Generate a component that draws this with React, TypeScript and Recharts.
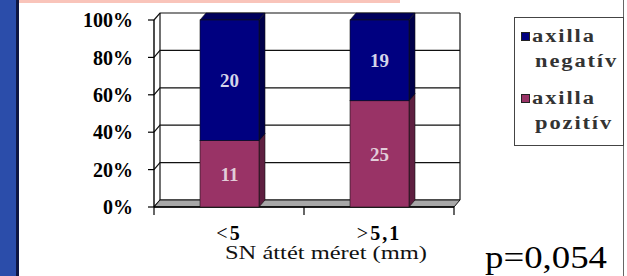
import { BarChart, Bar, XAxis, YAxis, CartesianGrid, Legend, LabelList, ReferenceArea } from 'recharts'

const categories = ['<5', '>5,1']
const axillaNegativ = [20, 19]
const axillaPozitiv = [11, 25]
const yTicks = [0, 0.2, 0.4, 0.6, 0.8, 1]
const pValue = 'p=0,054'
const axisTitle = 'SN áttét méret (mm)'

const SERIF = '"Liberation Serif", "Times New Roman", serif'
const NEG = '#000080'
const NEG_SIDE = '#00004a'
const NEG_TOP = '#00005c'
const POS = '#993366'
const POS_SIDE = '#5e1f40'
const POS_TOP = '#6e2a4c'
// depth of the fake 3d
const DX = 6
const DY = -7

const data = categories.map((name, i) => {
  const total = axillaNegativ[i] + axillaPozitiv[i]
  return {
    name,
    neg: axillaNegativ[i] / total,
    pos: axillaPozitiv[i] / total,
    negN: axillaNegativ[i],
    posN: axillaPozitiv[i],
  }
})

function Box3D(props: any) {
  const { x, y, width: w, height: h, fill, side, top } = props
  if (!w || !h) return null
  return (
    <g>
      <polygon
        points={`${x},${y} ${x + DX},${y + DY} ${x + w + DX},${y + DY} ${x + w},${y}`}
        fill={top}
        stroke="#111"
        strokeWidth={0.6}
      />
      <polygon
        points={`${x + w},${y} ${x + w + DX},${y + DY} ${x + w + DX},${y + h + DY} ${x + w},${y + h}`}
        fill={side}
        stroke="#111"
        strokeWidth={0.6}
      />
      <rect x={x} y={y} width={w} height={h} fill={fill} stroke="#111" strokeWidth={0.6} />
    </g>
  )
}

function Walls(props: any) {
  const { x, y, width: w, height: h } = props
  const b = y + h
  const n = categories.length
  const ticks = Array.from({ length: n + 1 }, (_, i) => x + (i * w) / n)
  return (
    <g>
      <polygon
        points={`${x},${b} ${x + DX},${b + DY} ${x + w + DX},${b + DY} ${x + w},${b}`}
        fill="#a8a8a8"
        stroke="#111"
        strokeWidth={1}
      />
      <line x1={x + DX} y1={y + DY} x2={x + DX} y2={b + DY} stroke="#111" strokeWidth={1.2} />
      <line x1={x + w + DX} y1={y + DY} x2={x + w + DX} y2={b + DY} stroke="#111" strokeWidth={1.2} />
      <line x1={x} y1={b} x2={x + w} y2={b} stroke="#000" strokeWidth={1.4} />
      {ticks.map((tx) => (
        <line key={tx} x1={tx} y1={b} x2={tx} y2={b + 8} stroke="#000" strokeWidth={1.2} />
      ))}
    </g>
  )
}

function gridLine(p: any) {
  return (
    <path
      key={`grid-${p.index}`}
      d={`M${p.x1},${p.y1}L${p.x1 + DX},${p.y1 + DY}L${p.x2 + DX},${p.y2 + DY}`}
      stroke="#111"
      strokeWidth={1.2}
      fill="none"
    />
  )
}

function CategoryTick({ x, y, payload }: any) {
  const v = String(payload.value)
  return (
    <text x={x} y={y + 25} textAnchor="middle" fontFamily={SERIF} fontSize={20} letterSpacing={2} fill="#000">
      <tspan>{v[0]}</tspan>
      <tspan fontWeight="bold">{v.slice(1)}</tspan>
    </text>
  )
}

function AxisTitle({ viewBox }: any) {
  const { x, y, width } = viewBox ?? { x: 0, y: 0, width: 0 }
  return (
    <text
      x={x + width / 2 + 22}
      y={y + 52}
      textAnchor="middle"
      fontFamily={SERIF}
      fontSize={18}
      textLength={202}
      lengthAdjust="spacingAndGlyphs"
      fill="#111"
    >
      {axisTitle}
    </text>
  )
}

function LegendBox({ payload }: any) {
  const items = [...(payload ?? [])].sort((a: any, b: any) =>
    String(a.value).includes('negatív') ? -1 : String(b.value).includes('negatív') ? 1 : 0,
  )
  return (
    <div
      style={{
        width: 110,
        height: 129,
        boxSizing: 'border-box',
        border: '1px solid #444',
        background: '#fff',
        padding: '6px 0 0 6px',
        fontFamily: SERIF,
        fontWeight: 'bold',
        fontSize: 18,
        color: '#333',
        letterSpacing: 1.5,
        lineHeight: '25px',
      }}
    >
      {items.map((it: any, i: number) => (
        <div key={it.value} style={{ position: 'relative', paddingLeft: 11, marginTop: i ? 12 : 0 }}>
          <span
            style={{
              position: 'absolute',
              left: 0,
              top: 8,
              width: 9,
              height: 9,
              boxSizing: 'border-box',
              background: it.color,
              border: '1px solid #222',
            }}
          />
          {String(it.value)
            .split(' ')
            .map((l: string, j: number) => (
              <div
                key={l}
                style={{
                  marginLeft: j ? 3 : 0,
                  transform: 'scaleX(1.25)',
                  transformOrigin: 'left center',
                  whiteSpace: 'nowrap',
                }}
              >
                {l}
              </div>
            ))}
        </div>
      ))}
    </div>
  )
}

export default function App() {
  return (
    <div style={{ position: 'absolute', left: 0, top: 0, width: 627, height: 276, background: '#fff', overflow: 'hidden' }}>
      <div style={{ position: 'absolute', left: 0, top: 0, width: 16, height: 276, background: '#2b4daa' }} />
      <div style={{ position: 'absolute', left: 16, top: 0, width: 3, height: 276, background: '#0e1642' }} />
      <div style={{ position: 'absolute', left: 19, top: 0, width: 381, height: 3, background: '#f9c4ba' }} />
      <div style={{ position: 'absolute', left: 623, top: 0, width: 1, height: 276, background: '#666' }} />
      <BarChart
        width={627}
        height={276}
        data={data}
        margin={{ top: 20, right: 63, bottom: 39, left: 94 }}
        barSize={59}
        style={{ position: 'absolute', left: 0, top: 0 }}
      >
        <CartesianGrid vertical={false} horizontal={gridLine} />
        <ReferenceArea y1={0} y2={1} shape={<Walls />} ifOverflow="visible" />
        <XAxis
          dataKey="name"
          height={30}
          axisLine={false}
          tickLine={false}
          tick={<CategoryTick />}
          interval={0}
          label={<AxisTitle />}
        />
        <YAxis
          type="number"
          domain={[0, 1]}
          ticks={yTicks}
          width={60}
          tickFormatter={(v: number) => `${Math.round(v * 100)}%`}
          tick={{ fontFamily: SERIF, fontSize: 20, fontWeight: 'bold', fill: '#000' }}
          axisLine={{ stroke: '#000', strokeWidth: 1.4 }}
          tickLine={{ stroke: '#000', strokeWidth: 1.2 }}
          tickSize={6}
          tickMargin={15}
        />
        <Legend
          layout="vertical"
          align="right"
          verticalAlign="top"
          content={<LegendBox />}
          wrapperStyle={{ left: 514, top: 17, width: 110 }}
        />
        <Bar
          dataKey="pos"
          name="axilla pozitív"
          stackId="a"
          fill={POS}
          isAnimationActive={false}
          shape={(p: any) => <Box3D {...p} side={POS_SIDE} top={POS_TOP} />}
        >
          <LabelList
            dataKey="posN"
            position="center"
            fill="#e2cdd9"
            fontFamily={SERIF}
            fontSize={19}
            fontWeight="bold"
          />
        </Bar>
        <Bar
          dataKey="neg"
          name="axilla negatív"
          stackId="a"
          fill={NEG}
          isAnimationActive={false}
          shape={(p: any) => <Box3D {...p} side={NEG_SIDE} top={NEG_TOP} />}
        >
          <LabelList
            dataKey="negN"
            position="center"
            fill="#d4d4ea"
            fontFamily={SERIF}
            fontSize={19}
            fontWeight="bold"
          />
        </Bar>
      </BarChart>
      <svg width={627} height={276} style={{ position: 'absolute', left: 0, top: 0, pointerEvents: 'none' }}>
        <text x={485} y={268} fontFamily={SERIF} fontSize={32} textLength={122} lengthAdjust="spacingAndGlyphs" fill="#000">
          {pValue}
        </text>
      </svg>
    </div>
  )
}
